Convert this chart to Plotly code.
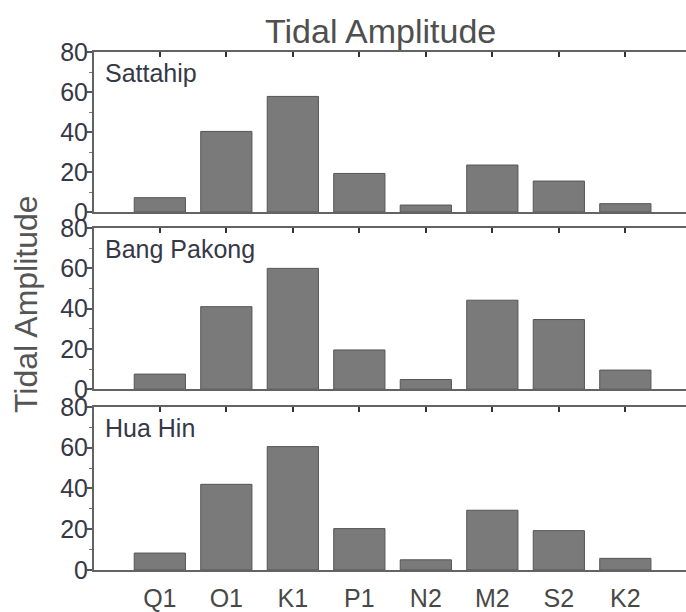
import plotly.graph_objects as go

# Tidal constituents and their amplitudes at three stations
constituents = ["Q1", "O1", "K1", "P1", "N2", "M2", "S2", "K2"]
stations = ["Sattahip", "Bang Pakong", "Hua Hin"]
sattahip = [7.2, 40.3, 57.8, 19.3, 3.5, 23.5, 15.5, 4.2]
bang_pakong = [7.5, 41.0, 60.0, 19.5, 4.8, 44.2, 34.6, 9.5]
hua_hin = [8.3, 42.0, 60.5, 20.3, 5.0, 29.3, 19.3, 5.7]
series = [sattahip, bang_pakong, hua_hin]

y_ticks = [0, 20, 40, 60, 80]

FONT = "Liberation Sans, Arial, sans-serif"
AXIS_GREY = "#636363"
TEXT_DARK = "#363846"

W, H = 686, 612
M_L, M_R, M_T, M_B = 94, 0, 52, 42
plot_w = W - M_L - M_R
slot_px = 66.5  # horizontal distance between neighbouring bars
x_range = [-0.99, -0.99 + plot_w / slot_px]

# vertical extents of the three panels (fractions of the plot area)
domains = [[0.691, 1.0], [0.349, 0.660], [0.0, 0.315]]

fig = go.Figure()
layout = dict(
    width=W, height=H,
    margin=dict(l=M_L, r=M_R, t=M_T, b=M_B),
    paper_bgcolor="white", plot_bgcolor="white",
    showlegend=False,
    font=dict(family=FONT, color=TEXT_DARK),
    annotations=[],
)

for i, (name, vals) in enumerate(zip(stations, series)):
    n = i + 1
    xa = "x" if n == 1 else f"x{n}"
    ya = "y" if n == 1 else f"y{n}"
    fig.add_trace(go.Bar(
        x=constituents, y=vals, xaxis=xa, yaxis=ya, width=0.77,
        marker=dict(color="#7a7a7a", line=dict(color="#555555", width=1)),
        hoverinfo="x+y",
    ))
    layout[f"xaxis{'' if n == 1 else n}"] = dict(
        domain=[0, 1], anchor=ya, type="category",
        categoryorder="array", categoryarray=constituents,
        range=x_range, showline=True, mirror=True,
        linecolor=AXIS_GREY, linewidth=2, ticks="", showgrid=False,
        zeroline=False, showticklabels=(n == 3),
        tickfont=dict(size=25, color="#484848"),
        ticklabelstandoff=5,
    )
    layout[f"yaxis{'' if n == 1 else n}"] = dict(
        domain=domains[i], anchor=xa, range=[0, 80],
        tickvals=y_ticks, showline=True, linecolor=AXIS_GREY, linewidth=2,
        ticks="outside", ticklen=5, tickwidth=1.5, tickcolor="#555555",
        minor=dict(dtick=10, tick0=0, ticks="outside", ticklen=3,
                   tickcolor="#777777", tickwidth=1),
        showgrid=False, zeroline=False,
        tickfont=dict(size=25, color=TEXT_DARK), ticklabelstandoff=-6,
    )
    # station name in the upper left corner of each panel
    layout["annotations"].append(dict(
        text=name, xref=f"{xa} domain", yref=f"{ya} domain",
        x=0.016, y=0.968, xanchor="left", yanchor="top", showarrow=False,
        font=dict(size=25, color=TEXT_DARK, family=FONT),
    ))

    # companion axis carrying the inward tick marks along the top edge
    k = n + 3
    fig.add_trace(go.Scatter(
        x=[None], y=[None], xaxis=f"x{k}", yaxis=ya,
        mode="markers", hoverinfo="skip",
    ))
    layout[f"xaxis{k}"] = dict(
        overlaying=xa, anchor=ya, side="top", domain=[0, 1],
        type="category", categoryorder="array", categoryarray=constituents,
        range=x_range, ticks="inside", ticklen=5, tickwidth=2,
        tickcolor="#333333", showticklabels=False, showline=False,
        showgrid=False, zeroline=False,
        tickvals=constituents,
    )

# figure title and shared y-axis title
layout["annotations"].append(dict(
    text="Tidal Amplitude", xref="paper", yref="paper",
    x=(380 - M_L) / plot_w, y=1 + (M_T - 31) / (H - M_T - M_B),
    xanchor="center", yanchor="middle", showarrow=False,
    font=dict(size=34, color="#4f4f4f", family=FONT),
))
layout["annotations"].append(dict(
    text="Tidal Amplitude", xref="paper", yref="paper",
    x=(26 - M_L) / plot_w, y=(570 - 304) / (H - M_T - M_B),
    xanchor="center", yanchor="middle", textangle=-90, showarrow=False,
    font=dict(size=32, color="#555555", family=FONT),
))

fig.update_layout(**layout)
fig.write_html("out.html")
